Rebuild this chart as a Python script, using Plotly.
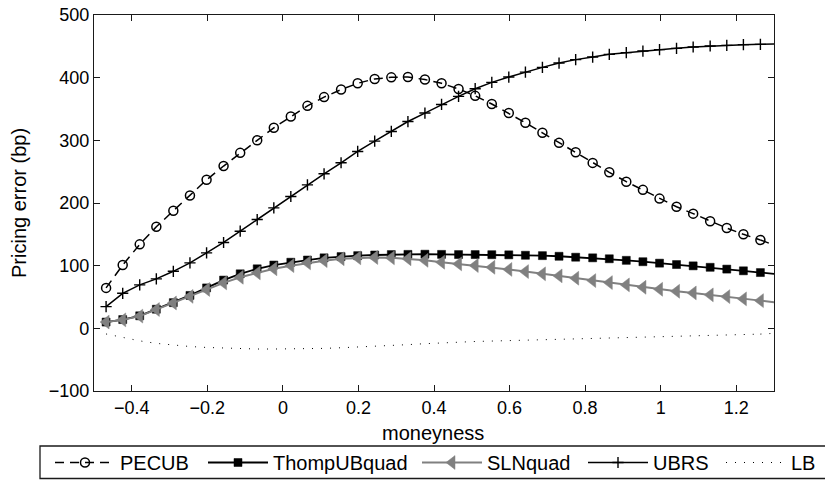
import plotly.graph_objects as go

# ---- data ----
moneyness = [-0.468, -0.424, -0.379, -0.335, -0.290, -0.246, -0.202, -0.157, -0.113, -0.068,
             -0.024, 0.021, 0.065, 0.109, 0.154, 0.198, 0.243, 0.287, 0.331, 0.376,
             0.420, 0.465, 0.509, 0.553, 0.598, 0.642, 0.687, 0.731, 0.775, 0.820,
             0.864, 0.909, 0.953, 0.997, 1.042, 1.086, 1.131, 1.175, 1.219, 1.264]
edge_x = 1.3

pecub = [64.5, 101, 134, 162, 187.5, 212, 237, 259, 280, 300,
         320, 338, 355, 369, 381, 391, 398, 400.5, 401, 397,
         391, 382, 371, 358, 343.5, 328, 312, 296, 281, 264,
         249, 234, 221, 207, 194, 183, 171, 160, 150, 141]
pecub_edge = 133

thomp = [10, 14, 20, 30.5, 41, 52.5, 64.5, 77, 87, 95,
         101, 105.5, 109, 112.5, 114.5, 116, 117, 117.7, 118, 118.3,
         118, 117.7, 117.7, 117.5, 117.3, 116.6, 116, 115, 113.5, 112.5,
         111, 108.5, 106.3, 104, 101.8, 99.7, 97.4, 94.5, 91.8, 89]
thomp_edge = 87

sln = [10, 13.5, 19.5, 30, 40.5, 51, 62, 72.5, 81.5, 88.5,
       95, 100, 104.5, 108, 111, 112.5, 113, 112.5, 111, 108.5,
       105.5, 102.8, 100.2, 97.4, 94, 90.6, 87, 83.7, 80, 76.2,
       73, 69.3, 65.5, 62.3, 59.1, 56.5, 53.4, 50.6, 47, 44.2]
sln_edge = 41.5

ubrs = [34.7, 55.9, 69.3, 79, 91, 104.5, 120.4, 137, 155, 173.6,
        192.3, 210.4, 229, 246.6, 264.2, 282.3, 298.7, 314.2, 330, 343.5,
        357.3, 370.1, 382.4, 392.5, 401, 408.9, 416.4, 423.3, 428.8, 432.9,
        437.2, 439.9, 442.5, 444.7, 446.8, 448.9, 450.5, 451.6, 452.7, 453.2]
ubrs_edge = 453.7

lb = [-9, -15, -20, -24, -27, -29, -30.5, -31.5, -32.3, -33,
      -33, -33, -32.5, -32, -31, -30, -29, -27.5, -26, -24.5,
      -23, -22, -21, -20.3, -19.6, -19, -18.3, -17.6, -17, -16.3,
      -15.6, -15, -14.3, -13.6, -13, -12.3, -11.5, -10.7, -10, -9.2]
lb_edge = -8

x_ticks = [-0.4, -0.2, 0, 0.2, 0.4, 0.6, 0.8, 1, 1.2]
x_ticktext = ["\u22120.4", "\u22120.2", "0", "0.2", "0.4", "0.6", "0.8", "1", "1.2"]
y_ticks = [-100, 0, 100, 200, 300, 400, 500]
y_ticktext = ["\u2212100", "0", "100", "200", "300", "400", "500"]

FONT = "Liberation Sans"
FS_TICK = 18
FS_LAB = 20
BLACK = "#000000"
GRAY = "#808080"
AXC = "#1a1a1a"

fig = go.Figure()

series = [
    dict(name="PECUB", y=pecub, e=pecub_edge, color=BLACK, dash="9px,6px", width=1.5,
         marker=dict(symbol="circle-open", size=9, color=BLACK, line=dict(width=1.5, color=BLACK)),
         mode="lines+markers", legend="legend"),
    dict(name="ThompUBquad", y=thomp, e=thomp_edge, color=BLACK, dash="solid", width=1.8,
         marker=dict(symbol="square", size=8, color=BLACK, line=dict(width=0.5, color=BLACK)),
         mode="lines+markers", legend="legend2"),
    dict(name="SLNquad", y=sln, e=sln_edge, color=GRAY, dash="solid", width=2,
         marker=dict(symbol="triangle-left", size=12, color=GRAY, line=dict(width=0.5, color=GRAY)),
         mode="lines+markers", legend="legend3"),
    dict(name="UBRS", y=ubrs, e=ubrs_edge, color=BLACK, dash="solid", width=1.5,
         marker=dict(symbol="cross-thin-open", size=8, color=BLACK, line=dict(width=1.4, color=BLACK)),
         mode="lines+markers", legend="legend4"),
    dict(name="LB", y=lb, e=lb_edge, color=BLACK, dash="1px,8px", width=1,
         marker=None, mode="lines", legend="legend5"),
]

for s in series:
    # tail segment from the last marker to the right edge of the axes
    fig.add_trace(go.Scatter(
        x=[moneyness[-1], edge_x], y=[s["y"][-1], s["e"]], mode="lines",
        line=dict(color=s["color"], width=s["width"], dash=s["dash"]),
        showlegend=False, hoverinfo="skip"))
    kw = dict(x=moneyness, y=s["y"], mode=s["mode"], name=s["name"],
              line=dict(color=s["color"], width=s["width"], dash=s["dash"]),
              legend=s["legend"])
    if s["marker"] is not None:
        kw["marker"] = s["marker"]
    fig.add_trace(go.Scatter(**kw))

# page body margin is removed below, so figure pixels equal window pixels
W, H = 825, 480
L, R, T, B = 94, 774, 15, 391
pw, ph = R - L, B - T

def px_x(p):
    return (p - L) / pw

def px_y(p):
    return (B - p) / ph

ITEMW = 60
leg_y = px_y(462.5)
text_starts = {"legend": 122, "legend2": 275, "legend3": 489, "legend4": 655, "legend5": 793}
legends = {}
for k, ts in text_starts.items():
    legends[k] = dict(x=px_x(ts - ITEMW - 12), y=leg_y, xanchor="left", yanchor="middle",
                      orientation="h", bgcolor="rgba(0,0,0,0)", borderwidth=0,
                      itemwidth=ITEMW,
                      font=dict(family=FONT, size=FS_LAB, color=BLACK))

axis_common = dict(showline=True, linecolor=AXC, linewidth=1.3, mirror="ticks",
                   ticks="inside", ticklen=6, tickwidth=1, tickcolor=AXC,
                   showgrid=False, zeroline=False, automargin=False,
                   ticklabeloverflow="allow",
                   tickfont=dict(family=FONT, size=FS_TICK, color=BLACK))

fig.update_layout(
    width=W, height=H,
    margin=dict(l=L, r=W - R, t=T, b=H - B, autoexpand=False),
    paper_bgcolor="white", plot_bgcolor="white",
    font=dict(family=FONT, size=FS_TICK, color=BLACK),
    xaxis=dict(range=[-0.5, 1.3], tickvals=x_ticks, ticktext=x_ticktext, **axis_common),
    yaxis=dict(range=[-100, 500], tickvals=y_ticks, ticktext=y_ticktext, **axis_common),
    annotations=[
        dict(text="moneyness", xref="paper", yref="paper", x=px_x(433), y=px_y(433),
             xanchor="center", yanchor="middle", showarrow=False,
             font=dict(family=FONT, size=FS_LAB, color=BLACK)),
        dict(text="Pricing error (bp)", xref="paper", yref="paper", x=px_x(19), y=px_y(203),
             xanchor="center", yanchor="middle", textangle=-90, showarrow=False,
             font=dict(family=FONT, size=FS_LAB, color=BLACK)),
    ],
    shapes=[dict(type="rect", xref="paper", yref="paper",
                 x0=px_x(40), x1=px_x(840), y0=px_y(478.5), y1=px_y(446),
                 line=dict(color=AXC, width=1.3), fillcolor="rgba(0,0,0,0)", layer="above")],
    showlegend=True,
    **legends,
)

fig.write_html("out.html", config={"displayModeBar": False},
               post_script="document.body.style.margin='0px';")
